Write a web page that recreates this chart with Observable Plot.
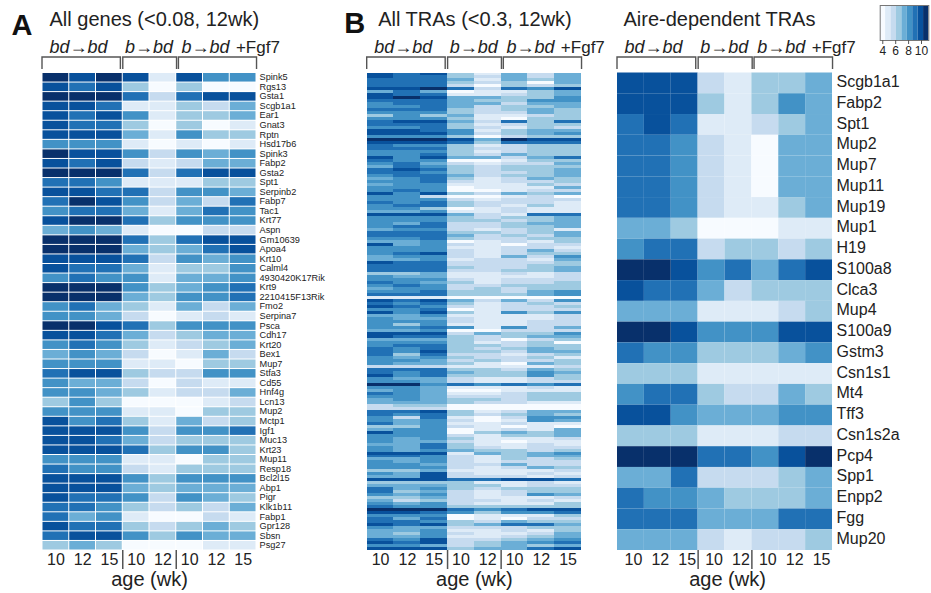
<!DOCTYPE html>
<html>
<head>
<meta charset="utf-8">
<script src="https://cdn.jsdelivr.net/npm/d3@7"></script>
<script src="https://cdn.jsdelivr.net/npm/@observablehq/plot@0.6"></script>
<style>
html,body{margin:0;padding:0;background:#fff;width:931px;height:593px;overflow:hidden}
#page{position:relative;width:931px;height:593px}
#page>svg{position:absolute;top:0}
</style>
</head>
<body>
<div id="page"></div>
<script>
// colour levels, light to dark, shared by the three heat maps and the legend
const levels = [1,2,3,4,5,6,7,8,9];
const blues = ["#f7fbff","#deebf7","#c6dbef","#9ecae1","#6baed6","#4292c6","#2171b5","#08519c","#08306b"];
const legendBreaks = [3.6,4.44,5.28,6.12,6.96,7.8,8.64,9.48,10.32,11.13];
const legendTicks = [4,6,8,10];

// columns: bd->bd 10,12,15 | b->bd 10,12 | b->bd+Fgf7 10,12,15
const ageLabels = ["10","12","15","10","12","10","12","15"];
const groupBreaks = [3,5];
const bracketSpans = [[0,2.93],[3.02,5.03],[5.1,8.02]];
const italicLabels = [["bd\u2192bd",0.26],["b\u2192bd",3.08],["b\u2192bd",5.2]];
const plainLabels = [["+Fgf7",7.23]];

const genesA = ["Spink5","Rgs13","Gsta1","Scgb1a1","Ear1","Gnat3","Rptn","Hsd17b6","Spink3","Fabp2","Gsta2","Spt1","Serpinb2","Fabp7","Tac1","Krt77","Aspn","Gm10639","Apoa4","Krt10","Calml4","4930420K17Rik","Krt9","2210415F13Rik","Fmo2","Serpina7","Psca","Cdh17","Krt20","Bex1","Mup7","Stfa3","Cd55","Hnf4g","Lcn13","Mup2","Mctp1","Igf1","Muc13","Krt23","Mup11","Resp18","Bcl2l15","Abp1","Pigr","Klk1b11","Fabp1","Gpr128","Sbsn","Psg27"];
const valuesA = ["98982866","87841411","99973788","88722435","87862445","87741412","88852644","66621212","98863656","87832355","99973788","77622244","88773665","79863537","67752576","89974666","56521133","99974788","99954578","88873656","87752446","67662556","99964567","99954667","67542535","66531232","99874666","88753455","67642345","56531253","66622144","78843366","65531322","66542335","46411123","66622144","86742534","88863667","88753444","88874664","66622144","76632444","88864666","88854555","87763654","77643435","75621132","87743454","78864655","45411122"];

const genesC = ["Scgb1a1","Fabp2","Spt1","Mup2","Mup7","Mup11","Mup19","Mup1","H19","S100a8","Clca3","Mup4","S100a9","Gstm3","Csn1s1","Mt4","Tff3","Csn1s2a","Pcp4","Spp1","Enpp2","Fgg","Mup20"];
const valuesC = ["88832445","88842465","78722345","77632155","77632155","77632155","77632245","55411122","67734434","99867578","87753444","55522234","99866688","76644456","44422222","67743354","88655566","44422233","99977689","55733345","76654445","77755577","55532334"];

// All TRAs: one string per row, one digit per column, top to bottom
const valuesB = [
"87842535","87743535","77752545","77743415","77731434","88973768","57512245","87722345","89855446","77754466",
"67755355","66753445","77743454","66643354","46452234","66642144","78853747","77742344","66743243","88762455",
"88863456","66641344","99985988","88874777","76642344","77743344","66642344","66743544","86855357","76611244",
"67532335","57643444","78743445","77643345","67753445","56742354","66732334","56622243","66612225","67611233",
"86843545","66311231","66632333","76743332","67743242","66412322","55622322","88853277","66643445","66644345",
"65733455","67733445","56632342","77744345","77753435","66743344","55612324","85632133","66622332","66632353",
"67832344","56632536","55623325","87733334","77733344","77743345","77733445","44522323","65522223","66632333",
"76542334","67633444","56634344","66744356","77744456","22211111","87853536","76742343","87632334","66712333",
"86842646","55622223","65532223","66632233","64622233","66762635","55611333","88835446","87743455","55543134",
"66642341","67744344","76743454","76844355","74733234","65643342","66534334","65542154","33322223","77744354",
"76754465","86744464","65532234","66532233","99676767","66522232","56511222","76522344","66533344","56544344",
"55543322","34411111","33311111","77842355","76743454","63721366","65631265","75622322","44632121","56612325",
"86614545","66632445","65642223","65532122","55742232","65743233","65654434","88825456","77632455","55632434",
"65632333","66533533","66632354","44522223","65832232","55833323","88877887","44442232","55544233","75643444",
"74532344","65632365","44532223","53433232","65632224","76644444","99976788","88764667","66612224","75712133",
"77643544","87845775","65533344","55622324","54632235","55622345","76833456","87834567","66534545","88845578"
];

const FONT = "'Liberation Sans', Arial, Helvetica, sans-serif";
const INK = "#222";
const LINE = "#555";
const colorScale = {type:"ordinal", domain:levels, range:blues};

function tidy(rows, names){
  return rows.flatMap((r,i)=>[...r].map((c,j)=>({row:names[i], col:j, level:+c})));
}

function bracketMark(index, scales, values, dims){
  const g = d3.create("svg:g").attr("fill","none").attr("stroke",LINE).attr("stroke-width",1.4);
  const top = dims.marginTop-15.5, bottom = dims.marginTop-3.5;
  for(const [a,b] of bracketSpans){
    const p = d3.path();
    p.moveTo(scales.x(a),bottom); p.lineTo(scales.x(a),top);
    p.lineTo(scales.x(b),top); p.lineTo(scales.x(b),bottom);
    g.append("path").attr("d",p.toString());
  }
  return g.node();
}

function panel(o){
  const H = 593, top = 72.5, bottom = 43;
  const data = tidy(o.rows, o.names);
  const el = Plot.plot({
    width:o.width, height:H,
    marginTop:top, marginBottom:bottom, marginLeft:o.ml, marginRight:o.width-o.ml-o.plotW,
    style:{background:"transparent", fontFamily:FONT, overflow:"visible", color:INK},
    x:{type:"linear", domain:[0,8], axis:null},
    y:{type:"band", domain:o.names, padding:0, round:false, axis:null},
    color:colorScale,
    marks:[
      Plot.barX(data,{x1:"col", x2:d=>d.col+1, y:"row", fill:"level", inset:o.inset, shapeRendering:o.crisp?"crispEdges":"auto"}),
      Plot.axisX({ticks:ageLabels.map((_,i)=>i+0.5), tickFormat:d=>ageLabels[d-0.5], tickSize:0, tickPadding:3, fontSize:16, label:null, dx:o.tickDx||0, color:INK}),
      o.showGenes ? Plot.axisY({anchor:"right", tickSize:0, tickPadding:o.labelPad, fontSize:o.labelSize, label:null, color:INK, dy:o.labelDy}) : null,
      Plot.ruleX(groupBreaks,{stroke:LINE, strokeWidth:1.5, insetTop:H-top-bottom, insetBottom:-19, dx:o.sepDx||0}),
      bracketMark,
      Plot.text(italicLabels,{x:d=>d[1], text:d=>d[0], frameAnchor:"top", textAnchor:"start", lineAnchor:"bottom", dy:-20, fontSize:18, fontStyle:"italic", fill:INK}),
      Plot.text(plainLabels,{x:d=>d[1], text:d=>d[0], frameAnchor:"top", textAnchor:"start", lineAnchor:"bottom", dy:-20, fontSize:17, fill:INK}),
      Plot.text([o.title],{frameAnchor:"top-left", textAnchor:"start", lineAnchor:"bottom", dx:o.titleDx, dy:-47, fontSize:20, fill:INK}),
      o.letter ? Plot.text([o.letter],{frameAnchor:"top-left", textAnchor:"start", lineAnchor:"bottom", dx:o.letterDx, dy:o.letterDy, fontSize:29, fontWeight:"bold", fill:"#111"}) : null,
      Plot.text(["age (wk)"],{x:()=>4, frameAnchor:"bottom", lineAnchor:"bottom", textAnchor:"middle", dy:35, fontSize:20, fill:INK, dx:o.tickDx||0})
    ]
  });
  el.style.left = o.left+"px";
  return el;
}

const page = document.getElementById("page");
page.append(panel({rows:valuesA, names:genesA, left:0, width:340, ml:42, plotW:214, inset:0.5, showGenes:true, labelSize:9.2, labelPad:3, labelDy:-0.5, title:"All genes (<0.08, 12wk)", titleDx:7, letter:"A", letterDx:-31, letterDy:-38}));
page.append(panel({rows:valuesB, names:d3.range(valuesB.length).map(String), left:340, width:270, ml:26.7, plotW:214.3, inset:0, crisp:true, showGenes:false, title:"All TRAs (<0.3, 12wk)", titleDx:11, letter:"B", letterDx:-23, letterDy:-40}));
page.append(panel({rows:valuesC, names:genesC, left:610, width:321, ml:7, plotW:215, inset:0, showGenes:true, labelSize:16, labelPad:4, labelDy:-1.5, tickDx:2.5, title:"Aire-dependent TRAs", titleDx:6}));

// colour key
const legend = Plot.plot({
  width:61, height:60,
  marginTop:5, marginBottom:20, marginLeft:9.7, marginRight:2.7,
  style:{background:"transparent", fontFamily:FONT, overflow:"visible", color:INK},
  x:{type:"linear", domain:[legendBreaks[0], legendBreaks[legendBreaks.length-1]], axis:null},
  y:{axis:null},
  color:colorScale,
  marks:[
    Plot.rectX(levels,{x1:d=>legendBreaks[d-1], x2:d=>legendBreaks[d], fill:d=>d}),
    Plot.frame({stroke:"#777", strokeWidth:1}),
    Plot.axisX({ticks:legendTicks, tickSize:4, tickPadding:2, fontSize:12, label:null, stroke:LINE, color:INK})
  ]
});
legend.style.left = "870px";
page.append(legend);
</script>
</body>
</html>
